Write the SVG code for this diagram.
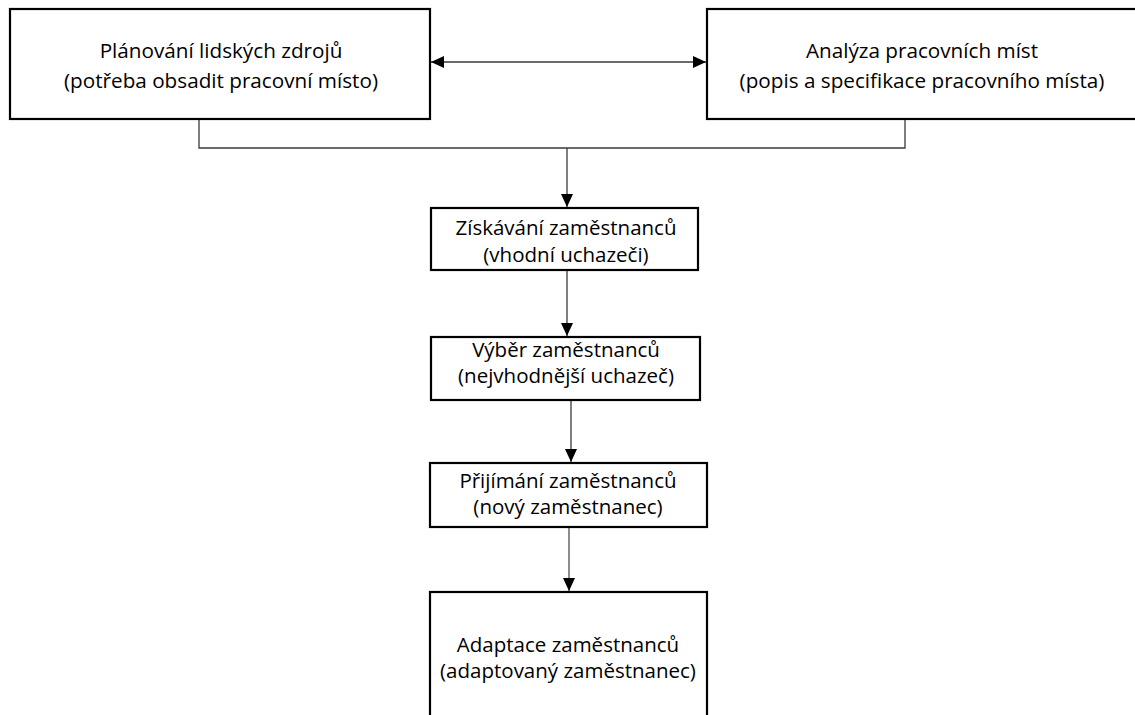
<svg xmlns="http://www.w3.org/2000/svg" width="1135" height="715" viewBox="0 0 1135 715">
<style>
.box{fill:#fff;stroke:#000;stroke-width:2.2}
.t{font-family:"Open Sans","Noto Sans",sans-serif;fill:#000;text-anchor:middle}
.big{font-size:20.7px}
.mid{font-size:20.5px}
.ln{fill:none;stroke:#3a3a3a;stroke-width:1.3}
.gr{fill:none;stroke:#808080;stroke-width:1.8}
</style>
<defs>
<marker id="ah" markerUnits="userSpaceOnUse" markerWidth="13" markerHeight="12" refX="13" refY="6" orient="auto-start-reverse">
<path d="M0,0 L13,6 L0,12 z" fill="#000"/>
</marker>
</defs>
<rect width="1135" height="715" fill="#fff"/>
<g id="connectors">
<line class="ln" x1="431" y1="62" x2="706" y2="62" marker-start="url(#ah)" marker-end="url(#ah)"/>
<polyline class="ln" points="199,119 199,148 905,148 905,119"/>
<line class="ln" x1="567" y1="148" x2="567" y2="207" marker-end="url(#ah)"/>
<line class="ln" x1="567" y1="270" x2="567" y2="336" marker-end="url(#ah)"/>
<line class="ln" x1="571" y1="400" x2="571" y2="462" marker-end="url(#ah)"/>
<line class="gr" x1="569" y1="528" x2="569" y2="591" marker-end="url(#ah)"/>
</g>
<g id="planovani">
<rect class="box" x="10" y="9" width="420" height="110"/>
<text class="t big" x="221" y="58">Plánování lidských zdrojů</text>
<text class="t big" x="221" y="88">(potřeba obsadit pracovní místo)</text>
</g>
<g id="analyza">
<rect class="box" x="707" y="9" width="440" height="110"/>
<text class="t big" x="922" y="58">Analýza pracovních míst</text>
<text class="t big" x="922" y="88">(popis a specifikace pracovního místa)</text>
</g>
<g id="ziskavani">
<rect class="box" x="431" y="208" width="267" height="62"/>
<text class="t mid" x="566" y="235">Získávání zaměstnanců</text>
<text class="t mid" x="566" y="262">(vhodní uchazeči)</text>
</g>
<g id="vyber">
<rect class="box" x="431" y="337" width="269" height="63"/>
<text class="t mid" x="566" y="357">Výběr zaměstnanců</text>
<text class="t mid" x="566" y="383">(nejvhodnější uchazeč)</text>
</g>
<g id="prijimani">
<rect class="box" x="430" y="463" width="277" height="64"/>
<text class="t mid" x="568" y="488">Přijímání zaměstnanců</text>
<text class="t mid" x="568" y="514">(nový zaměstnanec)</text>
</g>
<g id="adaptace">
<rect class="box" x="430" y="592" width="277" height="130"/>
<text class="t mid" x="568" y="652">Adaptace zaměstnanců</text>
<text class="t mid" x="568" y="678">(adaptovaný zaměstnanec)</text>
</g>
</svg>
